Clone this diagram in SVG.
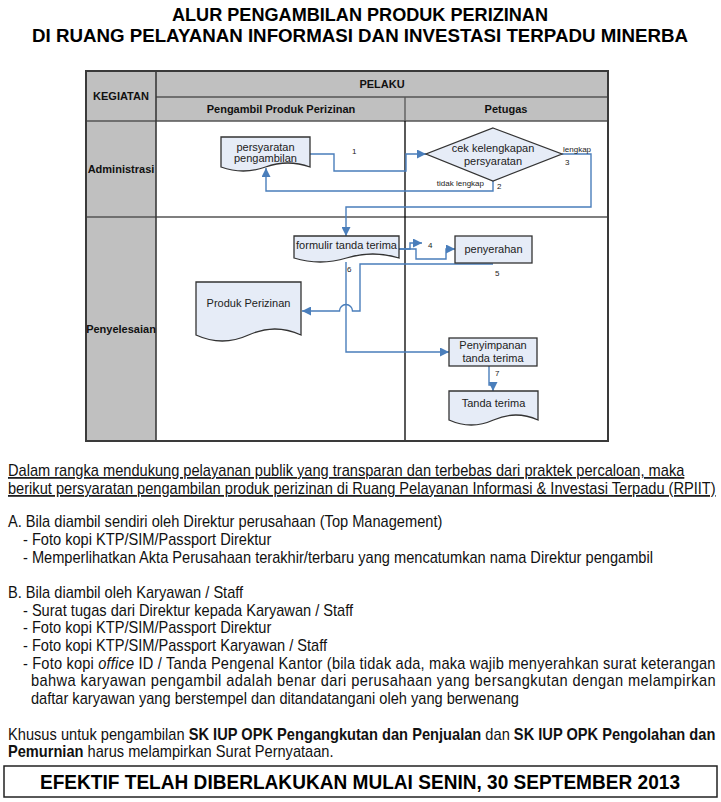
<svg xmlns="http://www.w3.org/2000/svg" width="721" height="802" viewBox="0 0 721 802">
<style>
.t{font-family:"Liberation Sans",Arial,sans-serif;fill:#000}
.hd{font-family:"Liberation Sans",Arial,sans-serif;font-weight:bold;font-size:11px;text-anchor:middle;fill:#111}
.nt{font-family:"Liberation Sans",Arial,sans-serif;font-size:11px;text-anchor:middle;fill:#222}
.lb{font-family:"Liberation Sans",Arial,sans-serif;font-size:8px;fill:#222}
.node{fill:#e6ecf7;stroke:#333;stroke-width:1.3}
.con{fill:none;stroke:#4a7ebb;stroke-width:1.4}
.body{font-family:"Liberation Sans",Arial,sans-serif;font-size:16.8px;fill:#111}
.b{font-weight:bold}
</style>
<defs>
<marker id="arr" markerWidth="9" markerHeight="9" refX="9" refY="4.5" orient="auto" markerUnits="userSpaceOnUse">
<path d="M0,0 L9,4.5 L0,9 Z" fill="#4a7ebb"/>
</marker>
</defs>
<rect width="721" height="802" fill="#fff"/>

<g id="title">
<text class="t b" x="360" y="21" font-size="18" text-anchor="middle" textLength="376" lengthAdjust="spacingAndGlyphs">ALUR PENGAMBILAN PRODUK PERIZINAN</text>
<text class="t b" x="360" y="42" font-size="18" text-anchor="middle" textLength="656" lengthAdjust="spacingAndGlyphs">DI RUANG PELAYANAN INFORMASI DAN INVESTASI TERPADU MINERBA</text>
</g>

<g id="table">
<rect x="86" y="71" width="522" height="50" fill="#c0c0c0"/>
<rect x="86" y="121" width="70" height="320" fill="#c0c0c0"/>
<rect x="156" y="121" width="452" height="320" fill="#fff"/>
<line x1="156" y1="97" x2="608" y2="97" stroke="#555" stroke-width="1.3"/>
<line x1="86" y1="121" x2="608" y2="121" stroke="#555" stroke-width="1.6"/>
<line x1="86" y1="217" x2="608" y2="217" stroke="#555" stroke-width="1.6"/>
<line x1="156" y1="71" x2="156" y2="441" stroke="#3a3a3a" stroke-width="1.6"/>
<line x1="405" y1="97" x2="405" y2="121" stroke="#555" stroke-width="1.3"/>
<line x1="405" y1="121" x2="405" y2="441" stroke="#000" stroke-width="1.3"/>
<rect x="86" y="71" width="522" height="370" fill="none" stroke="#3a3a3a" stroke-width="2"/>
<text class="hd" x="121" y="100">KEGIATAN</text>
<text class="hd" x="382" y="88">PELAKU</text>
<text class="hd" x="281" y="113">Pengambil Produk Perizinan</text>
<text class="hd" x="506" y="113">Petugas</text>
<text class="hd" x="121" y="173" font-size="10">Administrasi</text>
<text class="hd" x="121" y="333" font-size="10">Penyelesaian</text>
</g>

<g id="connectors">
<path class="con" d="M310,154 H334 V171 H406 V154 H426" marker-end="url(#arr)"/>
<path class="con" d="M493,181 V191 H266 V168" marker-end="url(#arr)"/>
<path class="con" d="M562,154 H591 V207 H346 V236" marker-end="url(#arr)"/>
<path class="con" d="M399,249 H410 V243 H422" marker-end="url(#arr)"/>
<path class="con" d="M399,249 H416 V259 H446 V249 H455" marker-end="url(#arr)"/>
<path class="con" d="M493,264 H360 V311 H352.5 A6.5,6.5 0 0 0 339.5,311 H302" marker-end="url(#arr)"/>
<path class="con" d="M346,262 V352 H449" marker-end="url(#arr)"/>
<path class="con" d="M489,366 V385 H493 V391" marker-end="url(#arr)"/>
<text class="lb" x="352" y="154">1</text>
<text class="lb" x="497" y="189">2</text>
<text class="lb" x="565" y="165">3</text>
<text class="lb" x="428" y="248">4</text>
<text class="lb" x="495" y="276">5</text>
<text class="lb" x="347" y="272">6</text>
<text class="lb" x="495" y="376">7</text>
<text class="lb" x="563" y="152">lengkap</text>
<text class="lb" x="484" y="186" text-anchor="end">tidak lengkap</text>
</g>

<g id="node-persyaratan">
<path class="node" d="M221,137 H310 V167 Q287.75,159 265.5,167 T221,167 Z"/>
<text class="nt" x="265.5" y="151">persyaratan</text>
<text class="nt" x="265.5" y="162">pengambilan</text>
</g>

<g id="node-cek">
<path class="node" d="M493,128 L562,154 L493,181 L426,154 Z"/>
<text class="nt" x="493" y="152">cek kelengkapan</text>
<text class="nt" x="493" y="165">persyaratan</text>
</g>

<g id="node-formulir">
<path class="node" d="M294,236 H399 V258 Q372.75,250 346.5,258 T294,258 Z"/>
<text class="nt" x="346.5" y="249">formulir tanda terima</text>
</g>

<g id="node-penyerahan">
<rect class="node" x="455" y="236" width="77" height="27"/>
<text class="nt" x="493.5" y="253">penyerahan</text>
</g>

<g id="node-produk">
<path class="node" d="M196,282 H301 V335 Q274.75,323 248.5,335 T196,335 Z"/>
<text class="nt" x="248.5" y="307">Produk Perizinan</text>
</g>

<g id="node-penyimpanan">
<rect class="node" x="449" y="338" width="88" height="28"/>
<text class="nt" x="493" y="349">Penyimpanan</text>
<text class="nt" x="493" y="362">tanda terima</text>
</g>

<g id="node-tanda">
<path class="node" d="M449,391 H538 V420 Q515.75,410 493.5,420 T449,420 Z"/>
<text class="nt" x="493.5" y="407">Tanda terima</text>
</g>

<g id="notes" transform="scale(0.87 1)">
<text class="body" x="9.2" y="476" text-decoration="underline">Dalam rangka mendukung pelayanan publik yang transparan dan terbebas dari praktek percaloan, maka</text>
<text class="body" x="9.2" y="494" text-decoration="underline">berikut persyaratan pengambilan produk perizinan di Ruang Pelayanan Informasi &amp; Investasi Terpadu (RPIIT)</text>
<text class="body" x="9.2" y="527">A. Bila diambil sendiri oleh Direktur perusahaan (Top Management)</text>
<text class="body" x="26.4" y="545">- Foto kopi KTP/SIM/Passport Direktur</text>
<text class="body" x="26.4" y="563">- Memperlihatkan Akta Perusahaan terakhir/terbaru yang mencatumkan nama Direktur pengambil</text>
<text class="body" x="9.2" y="598">B. Bila diambil oleh Karyawan / Staff</text>
<text class="body" x="26.4" y="616">- Surat tugas dari Direktur kepada Karyawan / Staff</text>
<text class="body" x="26.4" y="633">- Foto kopi KTP/SIM/Passport Direktur</text>
<text class="body" x="26.4" y="651">- Foto kopi KTP/SIM/Passport Karyawan / Staff</text>
<text class="body" x="26.4" y="669" textLength="796" lengthAdjust="spacing">- Foto kopi <tspan font-style="italic">office</tspan> ID / Tanda Pengenal Kantor (bila tidak ada, maka wajib menyerahkan surat keterangan</text>
<text class="body" x="35.6" y="686" textLength="787" lengthAdjust="spacing">bahwa karyawan pengambil adalah benar dari perusahaan yang bersangkutan dengan melampirkan</text>
<text class="body" x="35.6" y="704">daftar karyawan yang berstempel dan ditandatangani oleh yang berwenang</text>
<text class="body" x="9.2" y="740" textLength="813" lengthAdjust="spacing">Khusus untuk pengambilan <tspan class="b">SK IUP OPK Pengangkutan dan Penjualan</tspan> dan <tspan class="b">SK IUP OPK Pengolahan dan</tspan></text>
<text class="body" x="9.2" y="757"><tspan class="b">Pemurnian</tspan> harus melampirkan Surat Pernyataan.</text>
</g>

<g id="footer">
<rect x="4" y="766" width="713" height="31" fill="none" stroke="#222" stroke-width="1.5"/>
<text class="t b" x="360" y="789" font-size="20" text-anchor="middle" textLength="640" lengthAdjust="spacingAndGlyphs">EFEKTIF TELAH DIBERLAKUKAN MULAI SENIN, 30 SEPTEMBER 2013</text>
</g>
</svg>
